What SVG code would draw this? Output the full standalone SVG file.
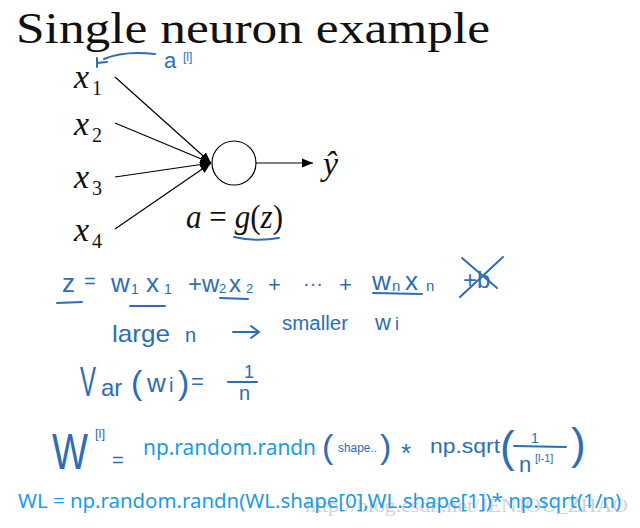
<svg xmlns="http://www.w3.org/2000/svg" width="640" height="528" viewBox="0 0 640 528">
<defs>
<marker id="ah" markerUnits="userSpaceOnUse" markerWidth="12" markerHeight="10" refX="11" refY="5" orient="auto">
<path d="M0,0.5 L11,5 L0,9.5 z" fill="#000"/>
</marker>
<style>
.title{font-family:"Liberation Serif",serif;font-size:44px;fill:#111}
.math{font-family:"Liberation Serif",serif;font-style:italic;font-size:34px;fill:#111}
.sub{font-family:"Liberation Serif",serif;font-size:20px;fill:#111}
.hw{font-family:"Liberation Sans",sans-serif;fill:#2d6db6}
.hl{stroke:#2d6db6;stroke-width:2;fill:none;stroke-linecap:round}
.pr{font-family:"Noto Sans",sans-serif;fill:#1a9be6}
.edge{stroke:#000;stroke-width:1.2;fill:none}
</style>
</defs>
<rect width="640" height="528" fill="#fff"/>
<text class="title" x="16" y="43" textLength="474" lengthAdjust="spacingAndGlyphs">Single neuron example</text>

<g id="connectors">
<line class="edge" x1="115" y1="77" x2="211" y2="163" marker-end="url(#ah)"/>
<line class="edge" x1="115" y1="123" x2="211" y2="163" marker-end="url(#ah)"/>
<line class="edge" x1="115" y1="177" x2="211" y2="163" marker-end="url(#ah)"/>
<line class="edge" x1="115" y1="229" x2="211" y2="163" marker-end="url(#ah)"/>
<line class="edge" x1="256" y1="163" x2="313" y2="163" marker-end="url(#ah)"/>
</g>

<g id="x1"><text class="math" x="74" y="88">x</text><text class="sub" x="92" y="95">1</text></g>
<g id="x2"><text class="math" x="74" y="135">x</text><text class="sub" x="92" y="142">2</text></g>
<g id="x3"><text class="math" x="74" y="188">x</text><text class="sub" x="92" y="195">3</text></g>
<g id="x4"><text class="math" x="74" y="241">x</text><text class="sub" x="92" y="248">4</text></g>
<g id="neuron"><circle cx="234" cy="163" r="22" fill="#fff" stroke="#000" stroke-width="1.2"/></g>
<g id="yhat"><text class="math" x="323" y="175">ŷ</text></g>
<g id="activation">
<text class="math" x="186" y="228" font-size="26" textLength="97" lengthAdjust="spacingAndGlyphs">a <tspan font-style="normal">=</tspan> g<tspan font-style="normal">(</tspan>z<tspan font-style="normal">)</tspan></text>
<path class="hl" d="M234,237 Q256,242 279,238"/>
</g>

<g id="annot-a">
<path class="hl" d="M155,54 C138,52 118,53 104,59"/>
<path class="hl" d="M97,58 L97,67 M97,63 L107,62"/>
<text class="hw" x="164" y="68" font-size="22">a</text>
<text class="hw" x="183" y="61" font-size="12">[l]</text>
</g>

<g id="eq-z">
<text class="hw" x="62" y="292" font-size="26">z</text>
<text class="hw" x="84" y="288" font-size="20">=</text>
<text class="hw" x="111" y="292" font-size="26">w</text>
<text class="hw" x="131" y="294" font-size="14">1</text>
<text class="hw" x="146" y="292" font-size="26">x</text>
<text class="hw" x="164" y="294" font-size="14">1</text>
<text class="hw" x="188" y="292" font-size="24">+</text>
<text class="hw" x="202" y="292" font-size="24">w</text>
<text class="hw" x="219" y="293" font-size="13">2</text>
<text class="hw" x="229" y="292" font-size="24">x</text>
<text class="hw" x="246" y="293" font-size="13">2</text>
<text class="hw" x="268" y="292" font-size="22">+</text>
<text class="hw" x="303" y="290" font-size="20">···</text>
<text class="hw" x="339" y="292" font-size="22">+</text>
<text class="hw" x="372" y="290" font-size="26">w</text>
<text class="hw" x="392" y="291" font-size="15">n</text>
<text class="hw" x="405" y="290" font-size="26">x</text>
<text class="hw" x="426" y="291" font-size="15">n</text>
<text class="hw" x="463" y="288" font-size="24">+b</text>
<path class="hl" d="M460,297 L503,257 M462,258 L497,288"/>
<path class="hl" d="M57,303 L82,302 M130,306 L165,306 M220,298 L248,299 M373,293 L422,294"/>
</g>

<g id="large-n">
<text class="hw" x="112" y="342" font-size="24" textLength="58" lengthAdjust="spacingAndGlyphs">large</text>
<text class="hw" x="185" y="342" font-size="20">n</text>
<path class="hl" d="M233,332 L259,332 M251,326 L259,332 L251,338"/>
<text class="hw" x="282" y="330" font-size="20" textLength="66" lengthAdjust="spacingAndGlyphs">smaller</text>
<text class="hw" x="375" y="330" font-size="22">w</text>
<text class="hw" x="395" y="330" font-size="18">i</text>
</g>

<g id="var">
<text class="hw" x="80" y="396" font-size="42"><tspan textLength="16" lengthAdjust="spacingAndGlyphs">V</tspan><tspan x="101" font-size="24">ar</tspan></text>
<text class="hw" x="131" y="394" font-size="34">(</text>
<text class="hw" x="147" y="392" font-size="26">w</text>
<text class="hw" x="169" y="392" font-size="20">i</text>
<text class="hw" x="178" y="394" font-size="34">)</text>
<text class="hw" x="191" y="389" font-size="22">=</text>
<text class="hw" x="244" y="378" font-size="18">1</text>
<path class="hl" d="M228,382 L257,382"/>
<text class="hw" x="239" y="400" font-size="20">n</text>
</g>

<g id="init">
<text class="hw" x="52" y="469" font-size="50"><tspan textLength="36" lengthAdjust="spacingAndGlyphs">W</tspan><tspan x="95" y="438" font-size="13">[l]</tspan></text>
<text class="hw" x="112" y="467" font-size="20">=</text>
<text class="pr" x="143" y="455" font-size="21" textLength="173" lengthAdjust="spacingAndGlyphs">np.random.randn</text>
<text class="hw" x="322" y="458" font-size="34">(</text>
<text class="hw" x="338" y="452" font-size="12" textLength="39" lengthAdjust="spacingAndGlyphs">shape..</text>
<text class="hw" x="380" y="458" font-size="34">)</text>
<text class="hw" x="401" y="462" font-size="26">*</text>
<text class="hw" x="430" y="453" font-size="21" textLength="70" lengthAdjust="spacingAndGlyphs">np.sqrt</text>
<text class="hw" x="500" y="462" font-size="44">(</text>
<text class="hw" x="531" y="443" font-size="14">1</text>
<path class="hl" d="M514,446 L566,447"/>
<text class="hw" x="519" y="472" font-size="22">n</text>
<text class="hw" x="535" y="462" font-size="11">[l-1]</text>
<text class="hw" x="571" y="459" font-size="44">)</text>
</g>

<text x="305" y="512" font-family="Liberation Serif,serif" font-size="19" fill="#d2d2d2" textLength="323" lengthAdjust="spacingAndGlyphs">http://blog.csdn.net/JENJOU_ZHAO</text>
<text class="pr" x="18" y="508" font-size="20" textLength="603" lengthAdjust="spacingAndGlyphs">WL = np.random.randn(WL.shape[0],WL.shape[1])* np.sqrt(1/n)</text>
</svg>
